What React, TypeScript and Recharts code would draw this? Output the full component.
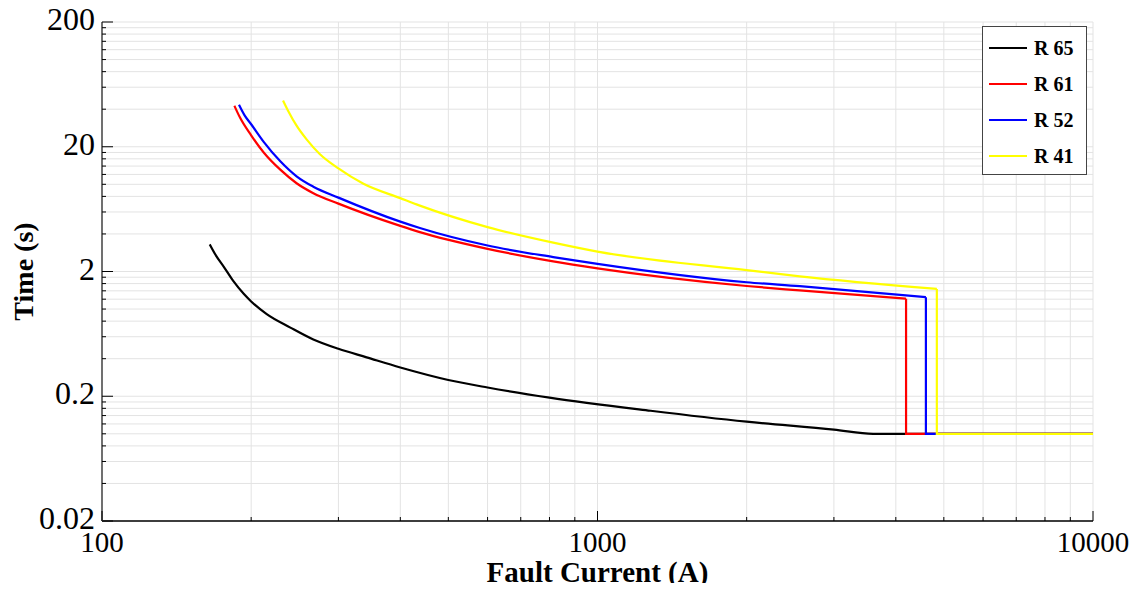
import { LineChart, Line, XAxis, YAxis, CartesianGrid } from 'recharts';

// relay characteristics (current in A, time in s)
const r65Current = [165, 170, 176, 184, 193, 200, 215, 240, 267, 300, 342, 400, 500, 600, 800, 1280, 2000, 3000, 3600, 10000];
const r65Time = [3.3, 2.67, 2.19, 1.68, 1.33, 1.15, 0.91, 0.71, 0.57, 0.48, 0.41, 0.34, 0.27, 0.235, 0.195, 0.153, 0.125, 0.108, 0.1, 0.1];

const r61Current = [185, 190, 200, 212, 229, 247, 267, 300, 400, 438, 600, 814, 1000, 2000, 2560, 4195, 4195, 10000];
const r61Time = [42.6, 34.1, 24.7, 18.0, 13.1, 10.2, 8.49, 7.0, 4.64, 4.14, 3.04, 2.41, 2.12, 1.53, 1.41, 1.21, 0.1, 0.1];

const r52Current = [189, 194, 200, 212, 229, 247, 267, 300, 400, 438, 600, 814, 1000, 2000, 2560, 4600, 4600, 10000];
const r52Time = [43.4, 35.7, 30.3, 21.9, 15.3, 11.6, 9.57, 7.82, 5.02, 4.46, 3.23, 2.61, 2.3, 1.64, 1.525, 1.245, 0.1, 0.1];

const r41Current = [232, 238, 247, 259, 275, 300, 337, 400, 438, 600, 814, 1000, 2000, 2560, 4840, 4840, 10000];
const r41Time = [46.9, 38.2, 29.5, 22.8, 17.5, 13.4, 10.1, 7.75, 6.75, 4.54, 3.41, 2.89, 2.05, 1.83, 1.45, 0.1, 0.1];

const xMajor = [100, 1000, 10000];
const yMajor = [0.02, 0.2, 2, 20, 200];

const relays = [
  { name: 'R 65', color: '#000000', current: r65Current, time: r65Time },
  { name: 'R 61', color: '#ff0000', current: r61Current, time: r61Time },
  { name: 'R 52', color: '#0000ff', current: r52Current, time: r52Time },
  { name: 'R 41', color: '#ffff00', current: r41Current, time: r41Time },
];

const toPoints = (current: number[], time: number[]) =>
  current.map((c, i) => ({ current: c, time: time[i] }));

// smooth inverse-time part, then the straight instantaneous step
const splitCurve = (current: number[], time: number[]) => {
  const pts = toPoints(current, time);
  const cut = current.findIndex((c, i) => i > 0 && c === current[i - 1]);
  if (cut < 0) return { curve: pts, tail: [] as typeof pts };
  return { curve: pts.slice(0, cut), tail: pts.slice(cut - 1) };
};

// minor grid positions: 1..9 times each decade start
const minorTicks = (majors: number[]) => {
  const out: number[] = [];
  majors.slice(0, -1).forEach((d) => {
    for (let k = 1; k < 10; k++) out.push(Number((d * k).toPrecision(6)));
  });
  out.push(majors[majors.length - 1]);
  return out;
};
const xTicks = minorTicks(xMajor);
const yTicks = minorTicks(yMajor);

const SERIF = '"Liberation Serif", "Times New Roman", serif';

const BottomTick = (props: any) => {
  const { x, y, payload } = props;
  const major = xMajor.includes(payload.value);
  return (
    <g>
      <line x1={x} x2={x} y1={y} y2={y - (major ? 10 : 4)} stroke="#000" />
      {major && (
        <text x={x} y={y + 31} textAnchor="middle" style={{ fontFamily: SERIF, fontSize: 29 }} fill="#000">
          {payload.value}
        </text>
      )}
    </g>
  );
};

const TopTick = (props: any) => {
  const { x, y, payload } = props;
  const major = xMajor.includes(payload.value);
  return <line x1={x} x2={x} y1={y} y2={y + (major ? 10 : 4)} stroke="#000" />;
};

const LeftTick = (props: any) => {
  const { x, y, payload } = props;
  const major = yMajor.includes(payload.value);
  return (
    <g>
      <line x1={x} x2={x + (major ? 11 : 4)} y1={y} y2={y} stroke="#000" />
      {major && (
        <text x={x - 7} y={y + 8} textAnchor="end" style={{ fontFamily: SERIF, fontSize: 32 }} fill="#000">
          {payload.value}
        </text>
      )}
    </g>
  );
};

const RightTick = (props: any) => {
  const { x, y, payload } = props;
  const major = yMajor.includes(payload.value);
  return <line x1={x} x2={x - (major ? 11 : 4)} y1={y} y2={y} stroke="#000" />;
};

const LegendBox = () => (
  <div
    style={{
      position: 'absolute',
      left: 982,
      top: 26,
      width: 105,
      height: 149,
      border: '1px solid #444',
      background: '#fff',
      boxSizing: 'border-box',
    }}
  >
    {relays.map((r, i) => (
      <div key={r.name} style={{ position: 'absolute', left: 6, top: 21 + i * 36 - 12, height: 24, display: 'flex', alignItems: 'center' }}>
        <div style={{ width: 38, height: 2, background: r.color }} />
        <span style={{ marginLeft: 7, fontFamily: SERIF, fontWeight: 'bold', fontSize: 20, color: '#000' }}>{r.name}</span>
      </div>
    ))}
  </div>
);

export default function App() {
  return (
    <div style={{ position: 'relative', width: 1147, height: 591, margin: -8 }}>
      <LineChart width={1147} height={591} margin={{ top: 22, right: 54, bottom: 0, left: 0 }}>
        <CartesianGrid stroke="#e3e3e3" strokeWidth={1} />
        <XAxis
          dataKey="current"
          type="number"
          scale="log"
          domain={[100, 10000]}
          allowDataOverflow
          ticks={xTicks}
          interval={0}
          tickSize={0}
          tickMargin={0}
          tick={<BottomTick />}
          height={70}
          axisLine={{ stroke: '#000', strokeWidth: 1.5 }}
          label={({ viewBox }: any) => (
            <text
              x={viewBox.x + viewBox.width / 2}
              y={viewBox.y + 61}
              textAnchor="middle"
              style={{ fontFamily: SERIF, fontSize: 29, fontWeight: 'bold' }}
              fill="#000"
            >
              Fault Current (A)
            </text>
          )}
        />
        <XAxis
          xAxisId="top"
          orientation="top"
          type="number"
          scale="log"
          domain={[100, 10000]}
          allowDataOverflow
          ticks={xTicks}
          interval={0}
          tickSize={0}
          tickMargin={0}
          tick={<TopTick />}
          height={0}
          axisLine={{ stroke: '#333', strokeWidth: 1.5 }}
        />
        <YAxis
          type="number"
          scale="log"
          domain={[0.02, 200]}
          allowDataOverflow
          ticks={yTicks}
          interval={0}
          tickSize={0}
          tickMargin={0}
          tick={<LeftTick />}
          width={102}
          axisLine={{ stroke: '#707070', strokeWidth: 2 }}
          label={({ viewBox }: any) => {
            const cx = 33;
            const cy = viewBox.y + viewBox.height / 2;
            return (
              <text
                x={cx}
                y={cy}
                transform={`rotate(-90 ${cx} ${cy})`}
                textAnchor="middle"
                style={{ fontFamily: SERIF, fontSize: 28, fontWeight: 'bold' }}
                fill="#000"
              >
                Time (s)
              </text>
            );
          }}
        />
        <YAxis
          yAxisId="right"
          orientation="right"
          type="number"
          scale="log"
          domain={[0.02, 200]}
          allowDataOverflow
          ticks={yTicks}
          interval={0}
          tickSize={0}
          tickMargin={0}
          tick={<RightTick />}
          width={0}
          axisLine={{ stroke: '#555', strokeWidth: 1.5 }}
        />
        {relays.map((r) => {
          const { curve, tail } = splitCurve(r.current, r.time);
          return [
            <Line
              key={r.name}
              data={curve}
              dataKey="time"
              name={r.name}
              type="monotone"
              stroke={r.color}
              strokeWidth={2.2}
              dot={false}
              activeDot={false}
              isAnimationActive={false}
            />,
            tail.length > 0 && (
              <Line
                key={r.name + '-step'}
                data={tail}
                dataKey="time"
                name={r.name + ' step'}
                type="linear"
                stroke={r.color}
                strokeWidth={2.2}
                dot={false}
                activeDot={false}
                isAnimationActive={false}
              />
            ),
          ];
        })}
      </LineChart>
      <LegendBox />
    </div>
  );
}
